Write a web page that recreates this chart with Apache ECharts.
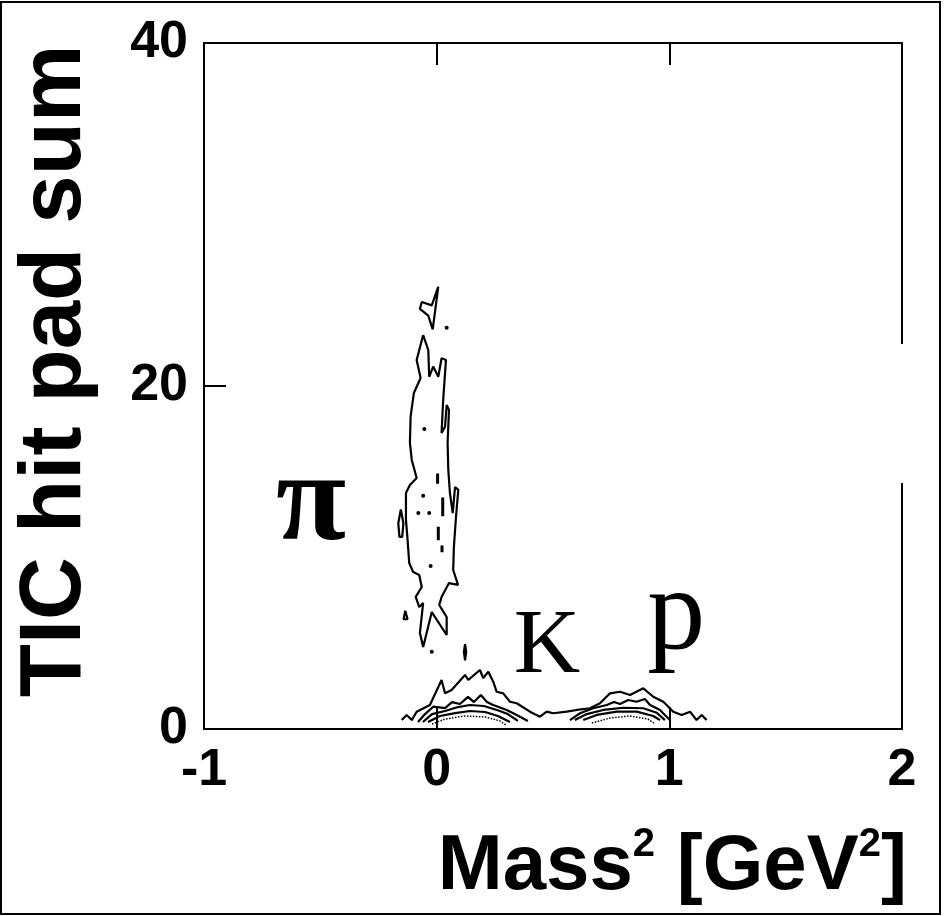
<!DOCTYPE html>
<html>
<head>
<meta charset="utf-8">
<script src="https://cdn.jsdelivr.net/npm/echarts@6/dist/echarts.min.js"></script>
<style>
  html, body { margin: 0; padding: 0; background: #fff; }
  #chart { width: 948px; height: 916px; }
</style>
</head>
<body>
<div id="chart"></div>
<script>
// axis ticks
const xTicks = [-1, 0, 1, 2]
const yTicks = [0, 20, 40]

// pion band contours (x = mass^2, y = hit pad sum)
const piTop = [[0.007, 25.8], [-0.021, 24.7], [-0.064, 24.9], [-0.072, 24.5], [-0.036, 24.1], [-0.017, 23.3], [0.007, 25.8]]
const piMain = [
  [-0.058, 22.97], [-0.036, 22.1], [-0.032, 20.54], [-0.015, 21.13], [0.007, 20.54], [0.021, 21.62], [0.04, 21.52],
  [0.028, 19.18], [0.021, 17.26], [0.036, 17.63], [0.043, 18.89], [0.053, 18.6], [0.047, 16.68], [0.05, 15.1],
  [0.057, 13.76], [0.069, 12.59], [0.079, 14.11], [0.093, 13.94], [0.083, 12.36], [0.074, 10.61], [0.071, 9.27],
  [0.092, 8.4], [0.053, 8.51], [0.021, 7.7], [0.011, 7.23], [0.043, 6.53], [0.043, 5.48], [-0.021, 6.82],
  [-0.058, 4.78], [-0.072, 5.6], [-0.058, 7.35], [-0.075, 7.11], [-0.09, 7.7], [-0.064, 8.28], [-0.075, 8.98],
  [-0.101, 9.15], [-0.118, 9.68], [-0.126, 11.2], [-0.132, 12.19], [-0.132, 13.76], [-0.115, 14.23], [-0.086, 14.64],
  [-0.107, 15.69], [-0.115, 16.68], [-0.112, 18.21], [-0.098, 19.59], [-0.069, 20.47], [-0.086, 21.52], [-0.058, 22.97]
]
const blobLeft = [[-0.154, 12.8], [-0.143, 12.0], [-0.148, 11.2], [-0.16, 11.2], [-0.165, 12.0], [-0.154, 12.8]]
const blobTri = [[-0.135, 6.9], [-0.125, 6.4], [-0.142, 6.4], [-0.135, 6.9]]
const blobK = [[0.122, 4.95], [0.127, 4.5], [0.122, 4.0], [0.117, 4.5], [0.122, 4.95]]
const piDashes = [
  [[0.004, 14.9], [0.004, 14.3]],
  [[0.026, 13.5], [0.026, 12.4]],
  [[0.007, 11.8], [0.007, 11.0]],
  [[0.023, 10.7], [0.023, 10.3]]
]
const piDots = [[0.043, 23.4], [-0.053, 17.5], [-0.058, 13.6], [-0.079, 12.6], [-0.032, 12.6], [-0.026, 9.5], [-0.021, 4.5]]

// kaon / proton contours near the bottom
const outer = [
  [-0.15, 0.52], [-0.129, 0.82], [-0.107, 0.52], [-0.086, 1.01], [-0.029, 1.4], [0.021, 2.86], [0.036, 2.08],
  [0.064, 2.27], [0.122, 3.15], [0.136, 2.86], [0.186, 3.44], [0.2, 2.97], [0.222, 3.34], [0.243, 2.76],
  [0.258, 2.17], [0.286, 2.08], [0.315, 1.59], [0.344, 1.5], [0.401, 1.01], [0.444, 0.72], [0.473, 1.01],
  [0.501, 0.92], [0.559, 1.01], [0.602, 1.11], [0.659, 1.21], [0.702, 1.5], [0.745, 2.08], [0.788, 2.17],
  [0.831, 1.98], [0.888, 2.37], [0.931, 1.88], [0.974, 1.59], [1.017, 1.01], [1.053, 0.82], [1.089, 1.01],
  [1.117, 0.52], [1.139, 0.82], [1.16, 0.52]
]
const k2 = [[-0.08, 0.41], [-0.05, 0.87], [-0.015, 1.3], [0.036, 1.22], [0.066, 1.57], [0.1, 1.46], [0.135, 1.87],
  [0.16, 1.57], [0.19, 1.98], [0.216, 1.57], [0.243, 1.4], [0.301, 1.11], [0.344, 0.82], [0.392, 0.47]]
const k3 = [[-0.059, 0.41], [-0.02, 0.87], [0.036, 1.05], [0.092, 1.28], [0.143, 1.4], [0.203, 1.34], [0.259, 1.11],
  [0.306, 0.87], [0.349, 0.47]]
const k4 = [[-0.037, 0.41], [0.014, 0.76], [0.079, 0.93], [0.143, 1.05], [0.208, 0.99], [0.263, 0.76], [0.315, 0.41]]
const k5 = [[-0.02, 0.29], [0.036, 0.58], [0.122, 0.76], [0.208, 0.7], [0.272, 0.47], [0.298, 0.23]]
const p2 = [[0.573, 0.52], [0.616, 0.92], [0.673, 1.21], [0.731, 1.4], [0.762, 1.57], [0.788, 1.46], [0.823, 1.69],
  [0.859, 1.59], [0.895, 1.75], [0.917, 1.4], [0.96, 1.11], [0.988, 0.72], [1.003, 0.52]]
const p3 = [[0.594, 0.52], [0.645, 0.87], [0.716, 1.11], [0.802, 1.24], [0.888, 1.21], [0.946, 0.95], [0.981, 0.52]]
const p4 = [[0.63, 0.52], [0.688, 0.82], [0.774, 1.01], [0.86, 1.01], [0.931, 0.76], [0.96, 0.52]]
const p5 = [[0.667, 0.35], [0.745, 0.64], [0.831, 0.76], [0.908, 0.58], [0.939, 0.29]]

// particle labels
const tags = [
  { name: 'π', value: [-0.54, 13.0], size: 128, weight: 'bold' },
  { name: 'K', value: [0.474, 4.75], size: 92, weight: 'normal' },
  { name: 'p', value: [1.03, 6.5], size: 116, weight: 'normal' }
]

const line = (data, width, type) => ({
  type: 'line',
  data: data,
  symbol: 'none',
  silent: true,
  animation: false,
  lineStyle: { color: '#000', width: width || 2.2, type: type || 'solid' },
  z: 3
})

const chart = echarts.init(document.getElementById('chart'))

const series = [
  line(piTop), line(piMain), line(blobLeft), line(blobTri), line(blobK),
  line(outer), line(k2), line(k3), line(k4), line(k5, 1.5, 'dotted'),
  line(p2), line(p3), line(p4), line(p5, 1.5, 'dotted')
]
piDashes.forEach(d => series.push(line(d, 3)))
series.push({
  type: 'scatter',
  data: piDots,
  symbolSize: 4,
  itemStyle: { color: '#000', opacity: 1 },
  silent: true,
  animation: false
})
series.push({
  type: 'scatter',
  data: tags.map(t => ({
    name: t.name,
    value: t.value,
    label: { fontSize: t.size, fontWeight: t.weight }
  })),
  symbolSize: 0,
  itemStyle: { color: '#000', opacity: 1 },
  silent: true,
  animation: false,
  label: {
    show: true,
    position: 'inside',
    formatter: '{b}',
    color: '#000',
    opacity: 1,
    textBorderWidth: 0,
    fontFamily: 'Liberation Serif'
  }
})

const axisCommon = {
  type: 'value',
  splitLine: { show: false },
  axisLine: { onZero: false, lineStyle: { color: '#000', width: 2 } },
  axisTick: { inside: true, length: 22, lineStyle: { color: '#000', width: 2 } }
}
const tickFont = { fontSize: 52, fontWeight: 'bold', color: '#000', fontFamily: 'Liberation Sans' }

chart.setOption({
  backgroundColor: '#fff',
  animation: false,
  textStyle: { fontFamily: 'Liberation Sans' },
  title: {
    text: '{a|Mass}{s|2}{a| [GeV}{s|2}{a|]}',
    right: 36,
    top: 820,
    textStyle: {
      rich: {
        a: { fontSize: 78, fontWeight: 'bold', color: '#000', fontFamily: 'Liberation Sans', lineHeight: 84 },
        s: { fontSize: 40, fontWeight: 'bold', color: '#000', fontFamily: 'Liberation Sans', verticalAlign: 'top', lineHeight: 44 }
      }
    }
  },
  grid: { left: 204, top: 43, right: 46, bottom: 187 },
  xAxis: [
    Object.assign({}, axisCommon, {
      min: xTicks[0], max: xTicks[xTicks.length - 1], interval: 1, position: 'bottom',
      axisLabel: Object.assign({ margin: 16 }, tickFont)
    }),
    Object.assign({}, axisCommon, {
      min: xTicks[0], max: xTicks[xTicks.length - 1], interval: 1, position: 'top',
      axisLabel: { show: false }
    })
  ],
  yAxis: [
    Object.assign({}, axisCommon, {
      min: yTicks[0], max: yTicks[yTicks.length - 1], interval: 20, position: 'left',
      name: 'TIC hit pad sum',
      nameLocation: 'middle',
      nameGap: 104,
      nameTextStyle: { fontSize: 87, fontWeight: 'bold', color: '#000', fontFamily: 'Liberation Sans', padding: [0, 0, 0, 30] },
      axisLabel: Object.assign({ margin: 16 }, tickFont)
    }),
    Object.assign({}, axisCommon, {
      min: yTicks[0], max: yTicks[yTicks.length - 1], interval: 20, position: 'right',
      axisTick: { show: false },
      axisLabel: { show: false }
    })
  ],
  graphic: [
    {
      type: 'rect',
      z: 100,
      shape: { x: 1, y: 2, width: 939, height: 912 },
      style: { fill: 'none', stroke: '#000', lineWidth: 2 }
    },
    {
      type: 'rect',
      z: 100,
      shape: { x: 898, y: 344, width: 8, height: 139 },
      style: { fill: '#fff' }
    }
  ],
  series: series
})
</script>
</body>
</html>
